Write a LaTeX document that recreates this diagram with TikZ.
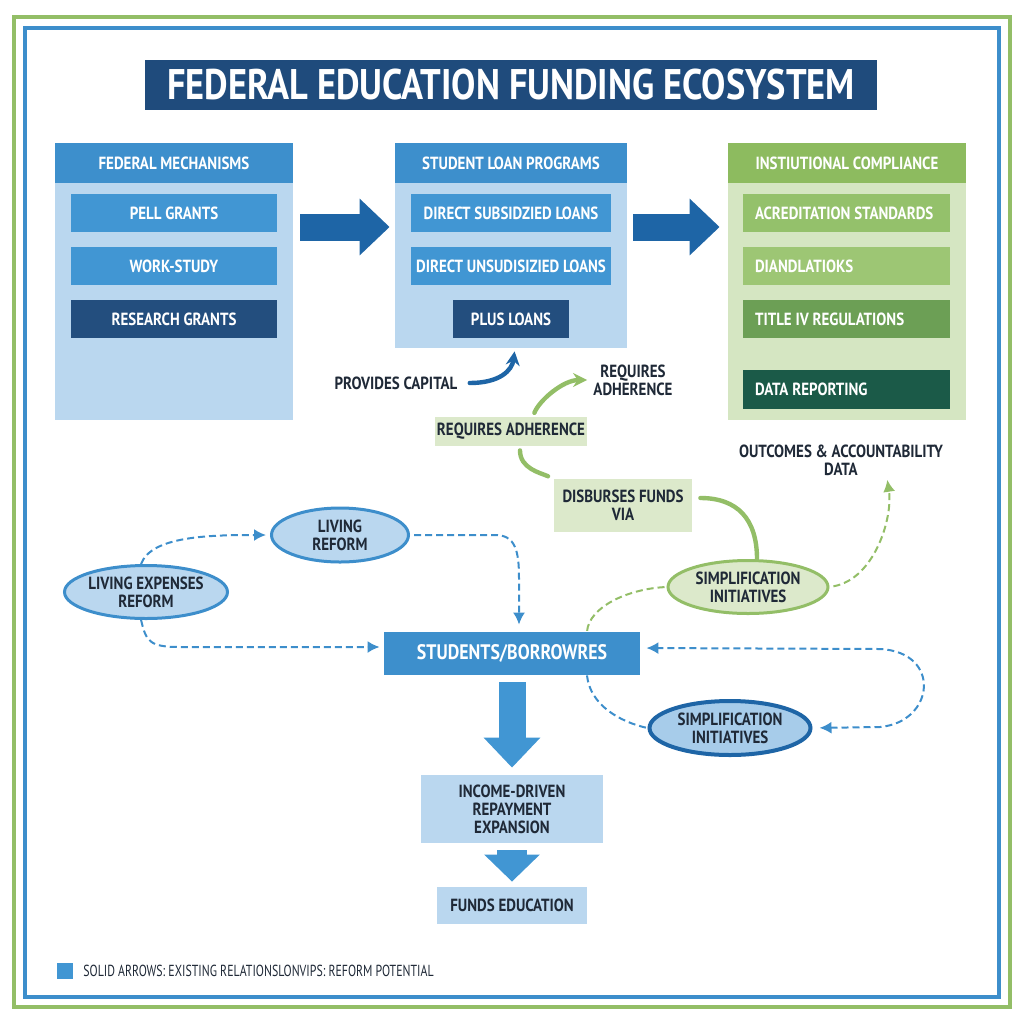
\documentclass[tikz,border=0pt]{standalone}
\usepackage{fontspec}
\usetikzlibrary{arrows.meta,shapes.geometric}

\newfontfamily\diagfont{PT Sans}[FakeStretch=0.85]
\newfontfamily\legendfamily{PT Sans}[FakeStretch=0.74]
\newcommand\fedtitlefont{\diagfont\bfseries\fontsize{21.4}{23}\selectfont}
\newcommand\fedboxfont{\diagfont\bfseries\fontsize{8.8}{9}\selectfont}
\newcommand\fedbigfont{\diagfont\bfseries\fontsize{10.5}{12}\selectfont}
\newcommand\fedlegendfont{\legendfamily\fontsize{8}{9}\selectfont}

\definecolor{titleblue}{HTML}{1F4B7C}
\definecolor{hdrblue}{HTML}{3D8FCC}
\definecolor{itemblue}{HTML}{4196D3}
\definecolor{panelblue}{HTML}{BAD7EF}
\definecolor{deepblue}{HTML}{234E7E}
\definecolor{arrowblue}{HTML}{1E65A6}
\definecolor{reformblue}{HTML}{3D8ECB}
\definecolor{hdrgreen}{HTML}{8DBB5F}
\definecolor{panelgreen}{HTML}{D5E6C2}
\definecolor{greenA}{HTML}{94C16B}
\definecolor{greenB}{HTML}{9DC674}
\definecolor{greenC}{HTML}{6C9F55}
\definecolor{greenD}{HTML}{1B5A48}
\definecolor{paleg}{HTML}{DCE9CB}
\definecolor{linegreen}{HTML}{93BE67}
\definecolor{inkdark}{HTML}{1F2937}

\tikzset{
  panel/.style={inner sep=0pt, minimum width=119pt},
  hdr/.style={inner sep=0pt, minimum width=119pt, minimum height=20pt, text=white, font=\fedboxfont},
  entry/.style={inner sep=0pt, minimum height=19pt, text=white, font=\fedboxfont},
  blockarrow/.style={line width=13.5pt, -{Triangle[width=27.5pt,length=15pt]}},
  solidcurve/.style={line width=2.2pt, line cap=round},
  reform/.style={line width=1pt, dash pattern=on 3.5pt off 2pt, -{Latex[length=6pt,width=6pt]}},
  reformline/.style={line width=1pt, dash pattern=on 3.5pt off 2pt},
  oval/.style={ellipse, inner sep=0pt, text=inkdark, font=\fedboxfont, align=center},
  label/.style={text=inkdark, font=\fedboxfont, align=center, inner sep=1pt}
}

\begin{document}
\begin{tikzpicture}[x=0.5pt,y=-0.5pt]
  \useasboundingbox (0,0) rectangle (1024,1024);

  % frames
  \draw[linegreen, line width=2pt] (14,17) rectangle (1010,1007);
  \draw[reformblue, line width=2pt] (25,28) rectangle (999,997);

  \node (title) [fill=titleblue, text=white, font=\fedtitlefont, minimum width=366pt,
    minimum height=25pt, inner sep=0pt] at (511,85) {FEDERAL EDUCATION FUNDING ECOSYSTEM};

  % the three columns
  \node (fed)  [panel, fill=panelblue, minimum height=138.5pt] at (174,281.5) {};
  \node (loan) [panel, fill=panelblue, minimum width=116pt, minimum height=102.5pt] at (511,245.5) {};
  \node (inst) [panel, fill=panelgreen, minimum height=138.5pt] at (847,281.5) {};

  \node (fedhdr)  [hdr, fill=hdrblue] at (174,163) {FEDERAL MECHANISMS};
  \node (loanhdr) [hdr, fill=hdrblue, minimum width=116pt] at (511,163) {STUDENT LOAN PROGRAMS};
  \node (insthdr) [hdr, fill=hdrgreen] at (847,163) {INSTIUTIONAL COMPLIANCE};

  \begin{scope}[every node/.style={entry, minimum width=103pt}]
    \node (pell)     [fill=itemblue] at (174,213) {PELL GRANTS};
    \node (work)     [fill=itemblue] at (174,266) {WORK-STUDY};
    \node (research) [fill=deepblue] at (174,319) {RESEARCH GRANTS};
  \end{scope}

  \begin{scope}[every node/.style={entry, minimum width=100pt}]
    \node (subs)   [fill=itemblue] at (511,213) {DIRECT SUBSIDZIED LOANS};
    \node (unsubs) [fill=itemblue] at (511,266) {DIRECT UNSUDISIZIED LOANS};
    \node (plus)   [fill=deepblue, minimum width=58pt] at (511,319) {PLUS LOANS};
  \end{scope}

  \begin{scope}[every node/.style={entry, text width=91.5pt, inner xsep=6pt, align=flush left}]
    \node (accred) [fill=greenA] at (846.5,213) {ACREDITATION STANDARDS};
    \node (diand)  [fill=greenB] at (846.5,266) {DIANDLATIOKS};
    \node (title4) [fill=greenC] at (846.5,319) {TITLE IV REGULATIONS};
    \node (data)   [fill=greenD, minimum height=19.5pt] at (846.5,389.5) {DATA REPORTING};
  \end{scope}

  % block arrows between columns
  \draw[blockarrow, arrowblue, shorten <=3.5pt, shorten >=2.5pt] (fed.east |- 0,227) -- (loan.west |- 0,227);
  \draw[blockarrow, arrowblue, shorten <=3pt, shorten >=4pt] (loan.east |- 0,227) -- (inst.west |- 0,227);

  % labels and solid curves
  \node (capital) [label] at (396,383) {PROVIDES CAPITAL};
  \node (adhtext) [label] at (633,380) {REQUIRES\\ADHERENCE};
  \node (outcomes) [label] at (841,460) {OUTCOMES \& ACCOUNTABILITY\\DATA};

  \node (reqbox)   [label, fill=paleg, minimum width=76pt, minimum height=14.5pt, inner sep=0pt] at (511,431.5) {REQUIRES ADHERENCE};
  \node (disburse) [label, fill=paleg, minimum width=69pt, minimum height=26.5pt, inner sep=0pt] at (623,505.5) {DISBURSES FUNDS\\VIA};

  \draw[solidcurve, arrowblue, -{Stealth[length=7pt,width=7pt]}, shorten <=5pt, shorten >=1.5pt]
    (capital.east) .. controls +(40,0) and +(-3,22) .. (loan.south -| 515,0);
  \draw[solidcurve, linegreen, -{Stealth[length=7pt,width=7pt]}, shorten <=2pt, shorten >=2pt]
    (reqbox.north -| 533,0) .. controls +(6,-16) and +(-28,0) .. (adhtext.west);
  \draw[solidcurve, linegreen, shorten <=2pt, shorten >=3pt]
    (reqbox.south -| 520,0) .. controls +(0,22) and +(-14,-6) .. (disburse.north west);

  % ovals
  \node (ler)  [oval, fill=panelblue, draw=reformblue, line width=1.5pt, minimum width=81.5pt, minimum height=26.5pt] at (146,592) {LIVING EXPENSES\\REFORM};
  \node (lr)   [oval, fill=panelblue, draw=reformblue, line width=1.5pt, minimum width=68.5pt, minimum height=27pt] at (340,535) {LIVING\\REFORM};
  \node (simpg) [oval, fill=paleg, draw=linegreen, line width=1.5pt, minimum width=80pt, minimum height=26.5pt] at (748,587) {SIMPLIFICATION\\INITIATIVES};
  \node (simpb) [oval, fill=panelblue!85!hdrblue, draw=arrowblue, line width=2pt, minimum width=80.5pt, minimum height=27pt] at (730,728) {SIMPLIFICATION\\INITIATIVES};

  \draw[solidcurve, linegreen, shorten <=4pt]
    (disburse.east |- 0,498) .. controls +(45,0) and +(0,-40) .. (simpg.north -| 757,0);

  % students and repayment
  \node (students) [fill=hdrblue, text=white, font=\fedbigfont, minimum width=128pt, minimum height=21.5pt, inner sep=0pt] at (512,653.5) {STUDENTS/BORROWRES};
  \node (income) [label, fill=panelblue, minimum width=91pt, minimum height=34pt, inner sep=0pt] at (512,809) {INCOME-DRIVEN\\REPAYMENT\\EXPANSION};
  \node (funds)  [label, fill=panelblue, minimum width=75pt, minimum height=18.5pt, inner sep=0pt] at (512,905.5) {FUNDS EDUCATION};

  \draw[blockarrow, itemblue, shorten <=3.5pt, shorten >=3.5pt] (students.south) -- (income.north);
  \draw[line width=15pt, itemblue, -{Triangle[width=27pt,length=13.5pt]}, shorten <=3.5pt, shorten >=2.5pt] (income.south) -- (funds.north);

  % reform potential (dashed)
  \begin{scope}[reformblue]
    \draw[reform, shorten >=2pt] (ler.100) .. controls +(10,-28) and +(-60,0) .. (lr.west);
    \draw[reform, shorten <=2pt, shorten >=3.5pt] (lr.east) -- (495,535) .. controls (515,535) and (519,550) .. (519,578) -- (students.north -| 519,0);
    \draw[reform, shorten >=2pt] (ler.-100) .. controls +(5,22) and +(-30,0) .. (180,647) -- (students.west |- 0,647);
    \draw[reform, {Latex[length=6pt,width=6pt]}-{Latex[length=6pt,width=6pt]}, shorten <=3.5pt, shorten >=3pt]
      (simpb.east) -- (880,727) .. controls (935,722) and (942,652) .. (880,649) -- (students.east |- 0,648);
    \draw[reformline] (students.south -| 587,0) .. controls (590,705) and (620,722) .. (simpb.west);
  \end{scope}

  \begin{scope}[linegreen]
    \draw[reform, shorten <=2pt, shorten >=1pt] (simpg.east) .. controls +(45,-8) and +(6,40) .. (outcomes.south -| 887,0);
    \draw[reformline, shorten <=1pt] (simpg.west) .. controls +(-38,2) and +(2,-25) .. (students.north -| 587,0);
  \end{scope}

  % legend
  \node (legendkey) [fill=itemblue, minimum size=8pt, inner sep=0pt] at (65,971) {};
  \node (legendtext) [anchor=west, text=inkdark, font=\fedlegendfont, inner sep=0pt] at (83,971) {SOLID ARROWS: EXISTING RELATIONSLONVIPS: REFORM POTENTIAL};
\end{tikzpicture}
\end{document}
